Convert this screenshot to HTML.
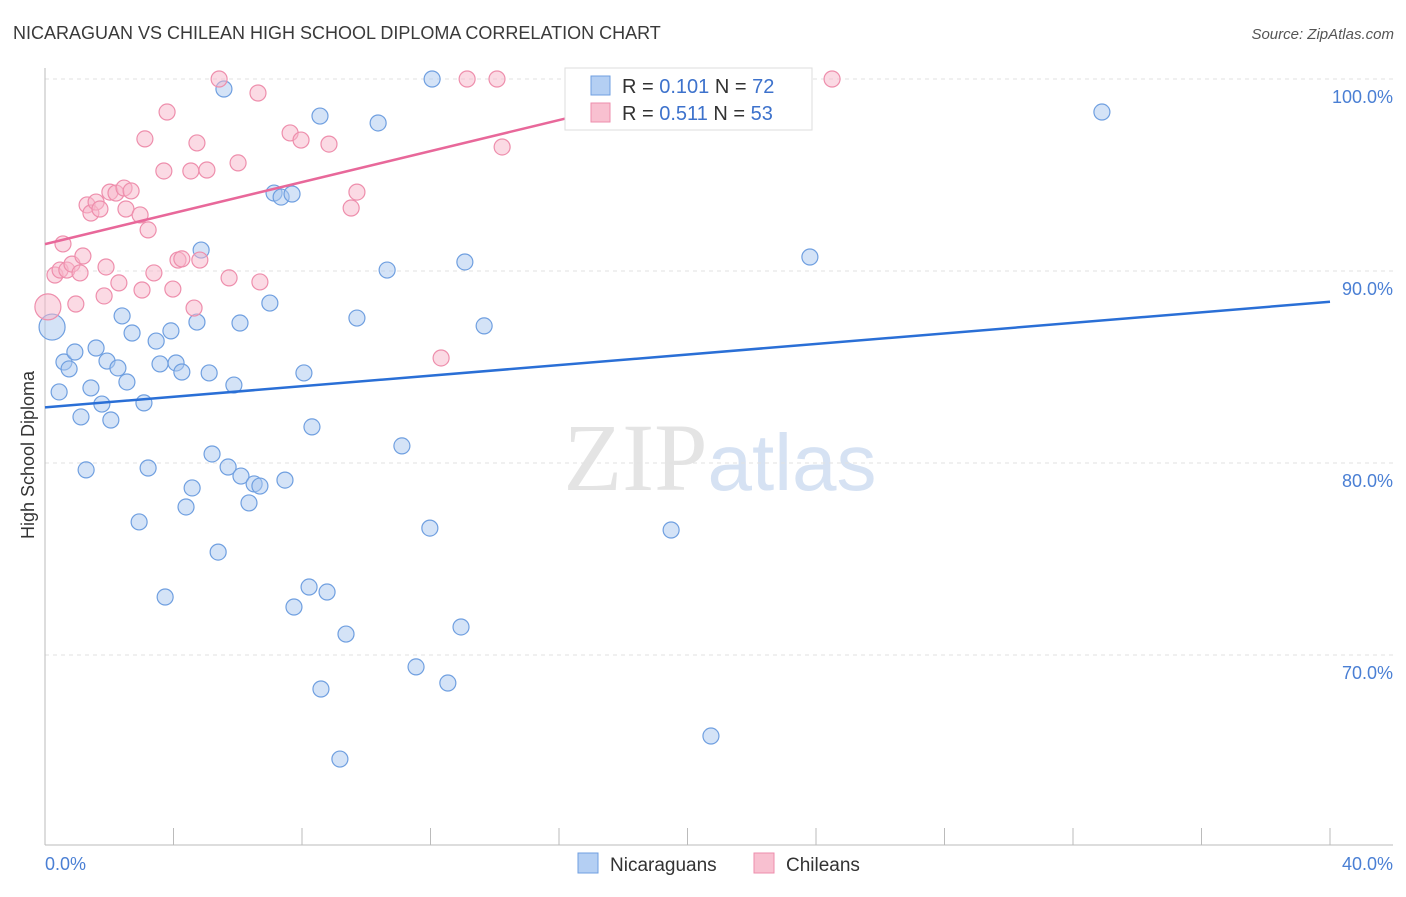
<!DOCTYPE html>
<html><head><meta charset="utf-8"><style>
body{margin:0;background:#fff;font-family:"Liberation Sans",sans-serif}
</style></head><body>
<svg id="chart" width="1406" height="892" xmlns="http://www.w3.org/2000/svg" style="font-family:'Liberation Sans',sans-serif">
<text x="13" y="39" font-size="18" fill="#3a3a3a">NICARAGUAN VS CHILEAN HIGH SCHOOL DIPLOMA CORRELATION CHART</text>
<text x="1394" y="39" font-size="15" fill="#555" text-anchor="end" font-style="italic">Source: ZipAtlas.com</text>
<text x="720" y="490" font-size="96" text-anchor="middle" fill="#e4e4e4" font-family="Liberation Serif">ZIP<tspan fill="#d6e2f3" font-family="Liberation Sans" font-size="80">atlas</tspan></text>
<g id="grid"></g><g id="axes"></g><g id="pts"></g><g id="lines"></g>
<text transform="translate(34,455) rotate(-90)" font-size="18" fill="#333" text-anchor="middle">High School Diploma</text>
<text x="45" y="870" font-size="18" fill="#4a7fd4">0.0%</text>
<text x="1393" y="870" font-size="18" fill="#4a7fd4" text-anchor="end">40.0%</text>
<g>
<rect x="565" y="68" width="247" height="62" fill="#fff" stroke="#ddd"/>
<rect x="591" y="76" width="19" height="19" fill="#b4cff3" stroke="#6f9fe0"/>
<rect x="591" y="103" width="19" height="19" fill="#f8c0d0" stroke="#ee8eac"/>
<text x="622" y="93" font-size="20" fill="#333">R = <tspan fill="#3d72cc">0.101</tspan>   N = <tspan fill="#3d72cc">72</tspan></text>
<text x="622" y="120" font-size="20" fill="#333">R = <tspan fill="#3d72cc">0.511</tspan>   N = <tspan fill="#3d72cc">53</tspan></text>
</g>
<g>
<rect x="578" y="853" width="20" height="20" fill="#b4cff3" stroke="#6f9fe0"/>
<text x="610" y="871" font-size="19" fill="#333">Nicaraguans</text>
<rect x="754" y="853" width="20" height="20" fill="#f8c0d0" stroke="#ee8eac"/>
<text x="786" y="871" font-size="19" fill="#333">Chileans</text>
</g>
</svg>
<script>
const yTicks=[100,90,80,70];
const yTickLabels=["100.0%","90.0%","80.0%","70.0%"];
const xTicks=[0,4,8,12,16,20,24,28,32,36,40];
const bluePx=[[52,327],[59,392],[64,362],[69,369],[75,352],[81,417],[86,470],[91,388],[96,348],[102,404],[107,361],[111,420],[118,368],[122,316],[127,382],[132,333],[139,522],[144,403],[148,468],[156,341],[160,364],[165,597],[171,331],[176,363],[182,372],[186,507],[192,488],[197,322],[201,250],[209,373],[212,454],[218,552],[224,89],[228,467],[234,385],[240,323],[241,476],[249,503],[254,484],[260,486],[270,303],[274,193],[281,197],[285,480],[292,194],[294,607],[304,373],[309,587],[312,427],[320,116],[321,689],[327,592],[340,759],[346,634],[357,318],[378,123],[387,270],[402,446],[416,667],[430,528],[432,79],[448,683],[461,627],[465,262],[484,326],[588,80],[671,530],[711,736],[718,80],[810,257],[1102,112]];
const pinkPx=[[48,307],[55,275],[60,270],[63,244],[67,270],[72,264],[76,304],[80,273],[83,256],[87,205],[91,213],[96,202],[100,209],[104,296],[106,267],[110,192],[116,193],[119,283],[124,188],[126,209],[131,191],[140,215],[142,290],[145,139],[148,230],[154,273],[164,171],[167,112],[173,289],[178,260],[182,259],[191,171],[194,308],[197,143],[200,260],[207,170],[219,79],[229,278],[238,163],[258,93],[260,282],[290,133],[301,140],[329,144],[351,208],[357,192],[441,358],[467,79],[497,79],[502,147],[832,79]];
// data values (x %, y %) derived from picture
const blueX=bluePx.map(p=>+((p[0]-45)/1285*40).toFixed(2));
const blueY=bluePx.map(p=>+(100-(p[1]-79)/19.2).toFixed(2));
const pinkX=pinkPx.map(p=>+((p[0]-45)/1285*40).toFixed(2));
const pinkY=pinkPx.map(p=>+(100-(p[1]-79)/19.2).toFixed(2));
const blueTrend=[[0,82.9],[40,88.4]];
const pinkTrend=[[0,91.4],[21.3,100]];
const sx=v=>45+v/40*1285, sy=v=>79+(100-v)*19.2;
const NS="http://www.w3.org/2000/svg";
function mk(t,a,p){const e=document.createElementNS(NS,t);for(const k in a)e.setAttribute(k,a[k]);p.appendChild(e);return e;}
const grid=document.getElementById('grid'),axes=document.getElementById('axes'),pts=document.getElementById('pts'),lines=document.getElementById('lines');
yTicks.forEach((v,i)=>{
 const l=mk('line',{x1:45,x2:1393,y1:sy(v),y2:sy(v),stroke:'#e2e2e2','stroke-dasharray':'4,4'},grid);
 
 
 const t=mk('text',{x:1393,y:sy(v)+24,'font-size':18,fill:'#4a7fd4','text-anchor':'end'},grid);
 t.textContent=yTickLabels[i];
 
 
});
const ax=mk('line',{x1:45,x2:1393,y1:845,y2:845,stroke:'#bbb'},axes);


const ay=mk('line',{x1:45,x2:45,y1:68,y2:845,stroke:'#bbb'},axes);


xTicks.forEach(v=>{
 const t=mk('line',{x1:sx(v),x2:sx(v),y1:828,y2:845,stroke:'#bbb'},axes);
 
 
});
function dots(X,Y,fill,stroke,name){X.forEach((x,i)=>{
 const big=i===0;
 const c=mk('circle',{cx:sx(x),cy:sy(Y[i]),r:big?13:8,fill:fill,'fill-opacity':0.5,stroke:stroke,'stroke-width':1.2},pts);
 
 
});}
dots(blueX,blueY,'#a9c8f0','#6f9fe0','nicaraguan-point');
dots(pinkX,pinkY,'#f7b6c9','#ee8eac','chilean-point');
const bl=mk('line',{x1:sx(blueTrend[0][0]),y1:sy(blueTrend[0][1]),x2:sx(blueTrend[1][0]),y2:sy(blueTrend[1][1]),stroke:'#2a6fd6','stroke-width':2.5},lines);


const pl=mk('line',{x1:sx(pinkTrend[0][0]),y1:sy(pinkTrend[0][1]),x2:sx(pinkTrend[1][0]),y2:sy(pinkTrend[1][1]),stroke:'#e8689a','stroke-width':2.5},lines);


</script>
</body></html>
